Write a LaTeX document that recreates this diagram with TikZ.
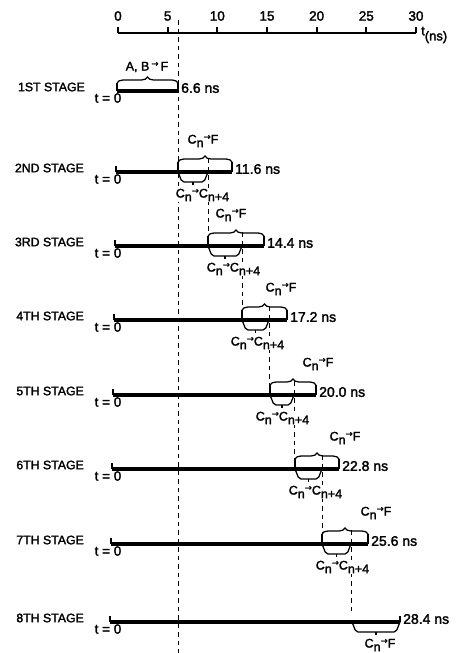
\documentclass[tikz,border=0pt]{standalone}
\usepackage{fontspec}
\setmainfont{Liberation Sans}[FakeBold=2]
\newfontfamily\arrowfont{DejaVu Sans}[FakeBold=1.5]
\usetikzlibrary{decorations.pathreplacing}
\newcommand\Cn{C\raisebox{-0.55ex}{n}}
\newcommand\toar{\raisebox{0.6ex}{\arrowfont\fontsize{8.5}{8.5}\selectfont →}}
\begin{document}
\begin{tikzpicture}[x=1pt,y=-1pt,
  barline/.style={line width=3.5pt},
  endtick/.style={line width=1.4pt},
  brc/.style={line width=1.25pt},
  guide/.style={dash pattern=on 4.5pt off 4pt, line width=1pt},
  axisline/.style={line width=1.9pt},
  stagelab/.style={anchor=east, font=\fontsize{12.3}{14}\selectfont, inner sep=0pt},
  nslab/.style={anchor=west, font=\fontsize{14}{16}\selectfont, inner sep=0pt},
  tlab/.style={font=\fontsize{13.5}{15}\selectfont, inner sep=0pt},
  clab/.style={font=\fontsize{12.5}{15}\selectfont, inner sep=0.6pt},
  clabw/.style={clab, fill=white, anchor=west}]
\fill[white] (0,0) rectangle (460,653);
\useasboundingbox (0,0) rectangle (460,653);

% time axis
\coordinate (a0) at (118,33);
\coordinate (a30) at (416,33);
\draw[axisline] (a0) -- (a30);
\foreach \v in {0,5,...,30}{
  \draw[axisline] ({118+\v*9.933},33) -- ++(0,-6);
  \node[tlab] (ax\v) at ({118+\v*9.933},16) {\v};
}
\node[anchor=west, inner sep=0pt, font=\fontsize{13}{15}\selectfont] (tunit) at (421,35) {t\raisebox{-0.75ex}{(ns)}};

% long dashed guide
\coordinate (g0top) at (178,20);
\coordinate (g0bot) at (178,653);
\draw[guide] (g0top) -- (g0bot);

% stage 1
\node[stagelab] (st1) at (85,87) {1ST STAGE};
\node[tlab] (t1) at (108,98) {t = 0};
\draw[endtick] (117,91) -- (117,85);
\draw[barline] (117,91) -- (178,91);
\draw[brc] (117,91) -- (117,83);
\draw[brc, decorate, decoration={brace, amplitude=6pt}] (117,83) -- (178,83);
\draw[brc] (178,83) -- (178,91);
\node[clab] (ab1) at (147,67) {A, B\,\toar\,F};
\node[nslab] (ns1) at (181,88) {6.6 ns};

% stages 2..7
\foreach \i/\st/\y/\ny/\xs/\xa/\xb/\xe/\ns/\ux/\lx in {
  2/2ND/172/246/116/178/208/232/11.6/203/175,
  3/3RD/246/320/115/208/242/264/14.4/231/206,
  4/4TH/320/395/114/242/269/287/17.2/281/230,
  5/5TH/395/469/113/270/294/316/20.0/318/255,
  6/6TH/469/544/112/295/322/339/22.8/345/288,
  7/7TH/544/622/111/322/351/368/25.6/376/315}{
  \draw[guide] (\xb,\y-14) -- (\xb,\ny-10);
  \node[stagelab] (st\i) at (84,\y-4) {\st\ STAGE};
  \node[tlab] (t\i) at (108,\y+7) {t = 0};
  \draw[endtick] (\xs,\y) -- (\xs,\y-6);
  \draw[barline] (\xs,\y) -- (\xe,\y);
  \draw[brc] (\xa,\y) -- (\xa,\y-10);
  \draw[brc, decorate, decoration={brace, amplitude=6pt}] (\xa,\y-10) -- (\xe,\y-10);
  \draw[brc] (\xe,\y-10) -- (\xe,\y);
  \draw[brc, rounded corners=2pt] (\xa,\y) -- (\xa+4,\y+10) -- (\xb-4,\y+10) -- (\xb,\y);
  \draw[brc] ({(\xa+\xb)/2},\y+10) -- ++(0,3);
  \node[clab] (cf\i) at (\ux,\y-31) {\Cn\toar F};
  \node[clabw] (cc\i) at (\lx,\y+23) {\Cn\toar C\raisebox{-0.55ex}{n+4}};
  \node[nslab] (ns\i) at (\xe+3,\y-3) {\ns\ ns};
}

% stage 8
\node[stagelab] (st8) at (84,618) {8TH STAGE};
\node[tlab] (t8) at (108,629) {t = 0};
\draw[endtick] (110,622) -- (110,616);
\draw[barline] (110,622) -- (400,622);
\draw[endtick] (400,622) -- (400,616);
\draw[brc, rounded corners=2pt] (352,622) -- (356,632) -- (396,632) -- (400,622);
\draw[brc] (376,632) -- (376,635);
\node[clab] (cf8) at (380,645) {\Cn\toar F};
\node[nslab] (ns8) at (403,619) {28.4 ns};
\end{tikzpicture}
\end{document}
